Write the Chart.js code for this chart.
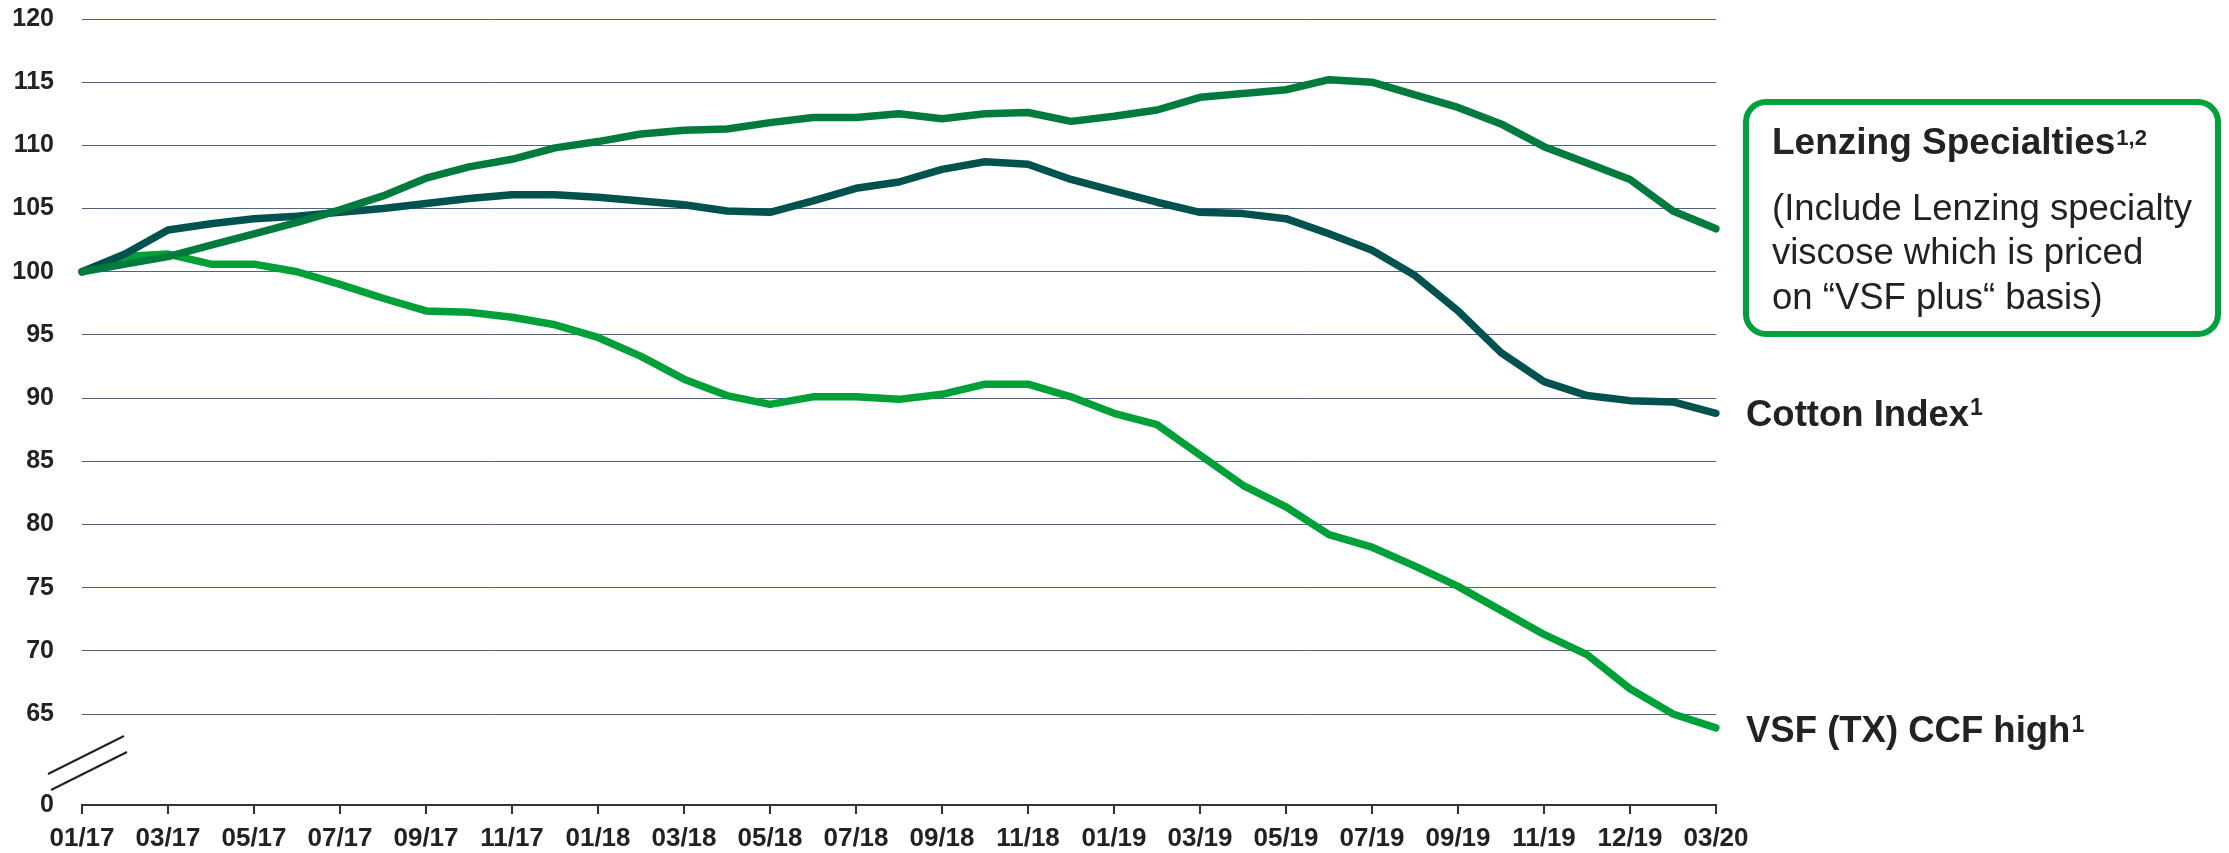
<!DOCTYPE html>
<html>
<head>
<meta charset="utf-8">
<script src="https://cdn.jsdelivr.net/npm/chart.js@4.4.1/dist/chart.umd.min.js"></script>
<style>
  body { margin: 0; background: #fff; }
  #wrap { width: 2229px; height: 853px; }
</style>
</head>
<body>
<div id="wrap"><canvas id="myChart" width="2229" height="853"></canvas></div>
<script>
// Monthly categories (the chart labels the 37th point 12/19)
const months = [
  "01/17", "02/17", "03/17", "04/17", "05/17", "06/17", "07/17", "08/17", "09/17", "10/17", "11/17", "12/17",
  "01/18", "02/18", "03/18", "04/18", "05/18", "06/18", "07/18", "08/18", "09/18", "10/18", "11/18", "12/18",
  "01/19", "02/19", "03/19", "04/19", "05/19", "06/19", "07/19", "08/19", "09/19", "10/19", "11/19", "12/19",
  "01/20", "02/20", "03/20"
];
// Labels shown under every second month
const xTickLabels = [
  "01/17", "03/17", "05/17", "07/17", "09/17", "11/17", "01/18", "03/18", "05/18", "07/18",
  "09/18", "11/18", "01/19", "03/19", "05/19", "07/19", "09/19", "11/19", "12/19", "03/20"
];
const yTickValues = [65, 70, 75, 80, 85, 90, 95, 100, 105, 110, 115, 120];
const yBreakMin = 57.8; // bottom of the broken axis, labelled "0"

const lenzingSpecialties = [
  100.0, 100.6, 101.2, 102.1, 103.0, 103.9, 104.9, 106.0, 107.4, 108.3,
  108.9, 109.8, 110.3, 110.9, 111.2, 111.3, 111.8, 112.2, 112.2, 112.5,
  112.1, 112.5, 112.6, 111.9, 112.3, 112.8, 113.8, 114.1, 114.4, 115.2,
  115.0, 114.0, 113.0, 111.7, 109.9, 108.6, 107.3, 104.8, 103.4
];
const cottonIndex = [
  100.0, 101.4, 103.3, 103.8, 104.2, 104.4, 104.7, 105.0, 105.4, 105.8,
  106.1, 106.1, 105.9, 105.6, 105.3, 104.8, 104.7, 105.6, 106.6, 107.1,
  108.1, 108.7, 108.5, 107.3, 106.4, 105.5, 104.7, 104.6, 104.2, 103.0,
  101.7, 99.7, 96.9, 93.6, 91.3, 90.2, 89.8, 89.7, 88.8
];
const vsfCcfHigh = [
  100.0, 101.2, 101.4, 100.6, 100.6, 100.0, 99.0, 97.9, 96.9, 96.8,
  96.4, 95.8, 94.8, 93.3, 91.5, 90.2, 89.5, 90.1, 90.1, 89.9,
  90.3, 91.1, 91.1, 90.1, 88.8, 87.9, 85.5, 83.1, 81.4, 79.2,
  78.2, 76.7, 75.1, 73.2, 71.3, 69.7, 67.0, 65.0, 63.9
];

const textColor = '#222222';
const gridColor = '#50627f';
const FONT = '"Liberation Sans", Arial, sans-serif';

// -----===== labels at the right and axis break =====-----
const sideLabels = {
  id: 'sideLabels',
  afterDraw(chart) {
    const ctx = chart.ctx;
    ctx.save();
    ctx.fillStyle = textColor;
    ctx.textBaseline = 'alphabetic';
    ctx.textAlign = 'left';

    const withSup = (text, sup, x, y, size, supSize, supY) => {
      ctx.font = `bold ${size}px ${FONT}`;
      ctx.fillText(text, x, y);
      const w = ctx.measureText(text).width;
      ctx.font = `bold ${supSize}px ${FONT}`;
      ctx.fillText(sup, x + w + 1, supY);
    };

    // box round Lenzing Specialties
    ctx.strokeStyle = '#00a03c';
    ctx.lineWidth = 6;
    ctx.beginPath();
    ctx.roundRect(1746, 102, 472, 232, 20);
    ctx.stroke();

    withSup('Lenzing Specialties', '1,2', 1772, 154, 37, 22, 145);
    ctx.font = `36.5px ${FONT}`;
    ctx.fillText('(Include Lenzing specialty', 1772, 220);
    ctx.fillText('viscose which is priced', 1772, 264);
    ctx.fillText('on \u201CVSF plus\u201C basis)', 1772, 309);

    withSup('Cotton Index', '1', 1746, 426, 36.5, 23, 415);
    withSup('VSF (TX) CCF high', '1', 1746, 742, 36.5, 23, 732);

    // axis break marks
    ctx.strokeStyle = '#222';
    ctx.lineWidth = 2;
    ctx.beginPath();
    ctx.moveTo(48, 774); ctx.lineTo(124, 736);
    ctx.moveTo(51, 790); ctx.lineTo(127, 752);
    ctx.stroke();
    ctx.restore();
  }
};

// -----===== DRAW CHART =====-----
const ctx = document.getElementById('myChart').getContext('2d');
const line = (data, color) => ({
  data: data,
  borderColor: color,
  backgroundColor: color,
  borderWidth: 7.5,
  pointRadius: 0,
  tension: 0,
  borderCapStyle: 'round',
  borderJoinStyle: 'round',
  fill: false
});

const myChart = new Chart(ctx, {
  type: 'line',
  data: {
    labels: months,
    datasets: [
      { label: 'Lenzing Specialties', ...line(lenzingSpecialties, '#007a3d') },
      { label: 'Cotton Index', ...line(cottonIndex, '#00524f') },
      { label: 'VSF (TX) CCF high', ...line(vsfCcfHigh, '#00a038') }
    ]
  },
  options: {
    responsive: false,
    animation: false,
    devicePixelRatio: 1,
    layout: { padding: { left: 12, right: 513, top: 19, bottom: 0 } },
    plugins: { legend: { display: false }, tooltip: { enabled: false } },
    scales: {
      x: {
        offset: false,
        afterBuildTicks: (scale) => {
          scale.ticks = scale.ticks.filter((t, i) => i % 2 === 0);
        },
        afterFit: (scale) => { scale.height = 48; },
        ticks: {
          autoSkip: false,
          maxRotation: 0,
          padding: 9,
          color: textColor,
          font: { family: FONT, size: 26, weight: 'bold' },
          callback: (value, index) => xTickLabels[index]
        },
        grid: {
          drawOnChartArea: false,
          drawTicks: true,
          tickLength: 9,
          tickColor: '#333333',
          tickWidth: 2,
          lineWidth: 2,
          color: '#333333'
        },
        border: { display: true, color: '#333333', width: 2 }
      },
      y: {
        min: yBreakMin,
        max: 120,
        afterBuildTicks: (scale) => {
          scale.ticks = [yBreakMin, ...yTickValues].map((v) => ({ value: v }));
        },
        afterFit: (scale) => { scale.width = 70; },
        ticks: {
          padding: 0,
          color: textColor,
          font: { family: FONT, size: 25, weight: 'bold' },
          callback: (value) => value === yBreakMin ? '0' : value
        },
        grid: {
          drawTicks: true,
          tickLength: 28,
          tickColor: 'rgba(0,0,0,0)',
          lineWidth: 1,
          color: (c) => c.tick && c.tick.value === yBreakMin ? 'rgba(0,0,0,0)' : gridColor
        },
        border: { display: false }
      }
    }
  },
  plugins: [sideLabels]
});
</script>
</body>
</html>
